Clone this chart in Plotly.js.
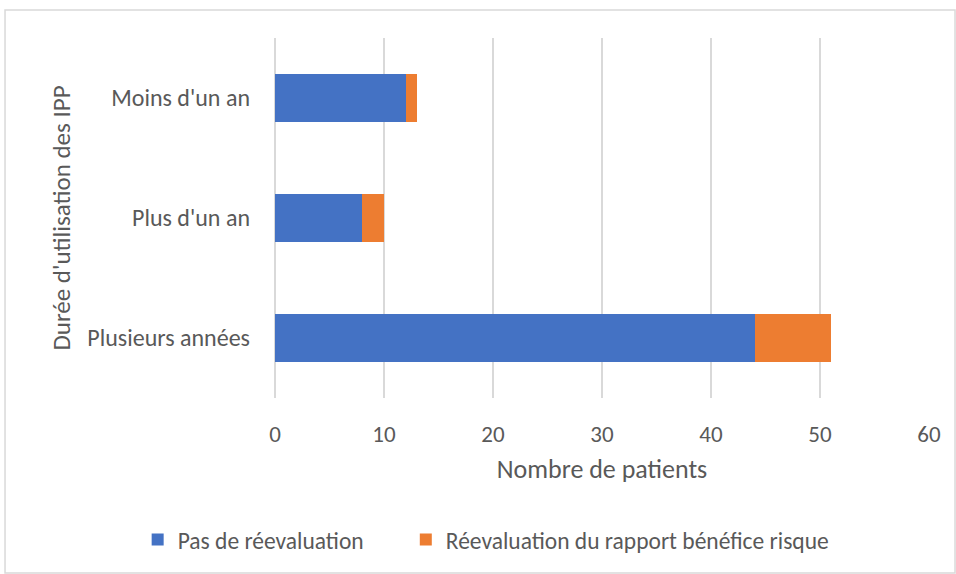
<!DOCTYPE html>
<html><head><meta charset="utf-8">
<script src="https://cdn.plot.ly/plotly-3.0.1.min.js"></script>
<style>html,body{margin:0;padding:0;background:#fff}#chart{width:956px;height:574px}</style>
</head><body><div id="chart"></div>
<script>
const categories = ["Plusieurs années", "Plus d'un an", "Moins d'un an"];
const pasReevaluation = [44, 8, 12];
const reevaluation = [7, 2, 1];
const seriesNames = ["Pas de réevaluation", "Réevaluation du rapport bénéfice risque"];
const xTicks = [0, 10, 20, 30, 40, 50, 60];

const font = "Carlito, Lato, 'Noto Sans', 'Liberation Sans', sans-serif";
const traces = [
  {type:'bar', orientation:'h', y:categories, x:pasReevaluation, name:seriesNames[0],
   marker:{color:'#4472C4'}, hoverinfo:'x+y', legend:'legend'},
  {type:'bar', orientation:'h', y:categories, x:reevaluation, name:seriesNames[1],
   marker:{color:'#ED7D31'}, hoverinfo:'x+y', legend:'legend2'}
];
const legendFont = {size:23.5, color:'#595959'};
const layout = {
  width:956, height:574,
  margin:{l:275, r:27, t:38, b:176},
  barmode:'stack', bargap:0.6,
  paper_bgcolor:'#fff', plot_bgcolor:'#fff',
  font:{family:font, size:24, color:'#595959'},
  xaxis:{range:[0,60], tickvals:xTicks, showgrid:true, gridcolor:'#d9d9d9', gridwidth:1.5,
    zeroline:true, zerolinecolor:'#d9d9d9', zerolinewidth:1.5, showline:false, ticks:'',
    ticklabelstandoff:20,
    tickfont:{size:23, color:'#595959'},
    title:{text:'Nombre de patients', font:{size:26, color:'#595959'}, standoff:12}},
  yaxis:{range:[-0.5,2.5], showgrid:false, zeroline:false, showline:false, ticks:'',
    ticklabelstandoff:24,
    tickfont:{size:24, color:'#595959'},
    title:{text:"Durée d'utilisation des IPP", font:{size:25, color:'#595959'}, standoff:9}},
  legend:{orientation:'h', x:-0.21, xanchor:'left', y:-0.394, yanchor:'middle',
    font:legendFont, itemwidth:30},
  legend2:{orientation:'h', x:0.2, xanchor:'left', y:-0.394, yanchor:'middle',
    font:legendFont, itemwidth:30},
  showlegend:true,
  shapes:[{type:'rect', xref:'paper', yref:'paper', x0:-0.4128, x1:1.0398, y0:-0.486, y1:1.0778,
    line:{color:'#d9d9d9', width:1.5}, fillcolor:'rgba(0,0,0,0)', layer:'below'}]
};
Plotly.newPlot('chart', traces, layout, {displayModeBar:false, staticPlot:true});
</script></body></html>
